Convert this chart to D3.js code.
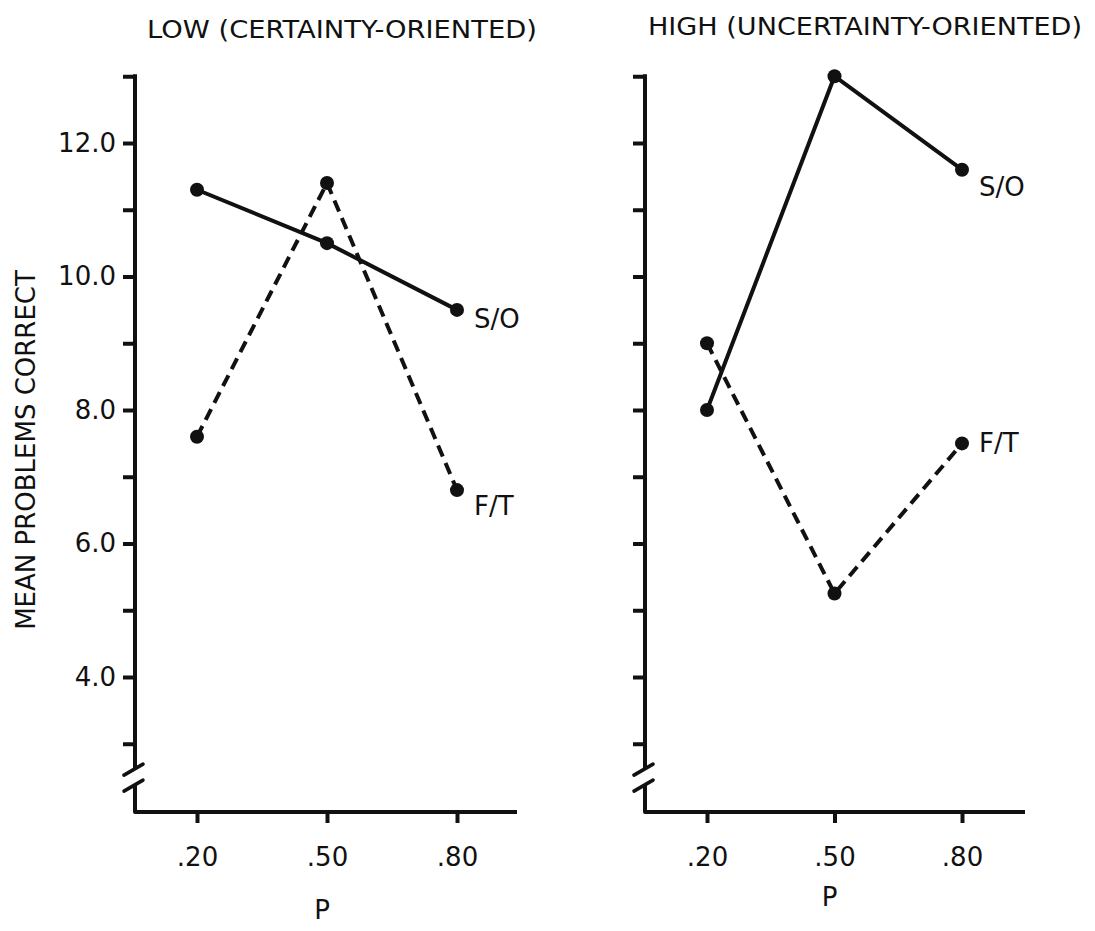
<!DOCTYPE html>
<html>
<head>
<meta charset="utf-8">
<script src="https://cdn.jsdelivr.net/npm/d3@7/dist/d3.min.js"></script>
<style>
  body { margin: 0; background: #fff; }
  svg { display: block; }
  text { font-family: "DejaVu Sans", "Liberation Sans", sans-serif; fill: #111; }
</style>
</head>
<body>
<div id="chart"></div>
<script>
// values
const pValues = [0.2, 0.5, 0.8];
const pLabels = [".20", ".50", ".80"];
const lowSO  = [11.3, 10.5, 9.5];
const lowFT  = [7.6, 11.4, 6.8];
const highSO = [8.0, 13.0, 11.6];
const highFT = [9.0, 5.25, 7.5];
const yTicks = [3, 4, 5, 6, 7, 8, 9, 10, 11, 12, 13];
const yLabelled = [4, 6, 8, 10, 12];
const panelTitles = ["LOW (CERTAINTY-ORIENTED)", "HIGH (UNCERTAINTY-ORIENTED)"];
const seriesNames = ["S/O", "F/T"];

const W = 1095, H = 931;
const fontFam = "DejaVu Sans, Liberation Sans, sans-serif";
const fontSize = 26;
const lineW = 4;
const dotR = 7;
const baseY = 812;     // where the x axis sits
const breakTop = 2.62, breakBottom = 2.38;  // y values around the axis break

const yScale = d3.scaleLinear().domain([4, 12]).range([677, 143]);

const svg = d3.select("#chart").append("svg")
    .attr("width", W)
    .attr("height", H);

// layout of the two panels
const panels = [
    {title: panelTitles[0], titleX: 342, titleY: 38, titleLen: 390,
     axisX: 135, xEnd: 517, range: [197, 457], showLabels: true,
     series: [{name: seriesNames[0], values: lowSO, dash: null, dy: 9},
              {name: seriesNames[1], values: lowFT, dash: "12,7", dy: 16}]},
    {title: panelTitles[1], titleX: 865, titleY: 35, titleLen: 434,
     axisX: 645, xEnd: 1025, range: [707, 962], showLabels: false,
     series: [{name: seriesNames[0], values: highSO, dash: null, dy: 17},
              {name: seriesNames[1], values: highFT, dash: "12,7", dy: 0}]}
];

const fmt = d3.format(".1f");

panels.forEach(p => {
    const g = svg.append("g");
    const xScale = d3.scaleLinear().domain([0.2, 0.8]).range(p.range);

    // title
    g.append("text")
        .attr("x", p.titleX)
        .attr("y", p.titleY)
        .attr("text-anchor", "middle")
        .attr("font-size", 25)
        .attr("textLength", p.titleLen)
        .attr("lengthAdjust", "spacingAndGlyphs")
        .text(p.title);

    // y axis ticks (domain drawn by hand because of the break)
    const yAxisG = g.append("g")
        .attr("transform", "translate(" + p.axisX + ",0)")
        .call(d3.axisLeft(yScale)
            .tickValues(yTicks)
            .tickSize(12)
            .tickPadding(7)
            .tickFormat(v => (p.showLabels && yLabelled.includes(v)) ? fmt(v) : ""));
    yAxisG.select(".domain").remove();
    yAxisG.selectAll(".tick line").attr("stroke", "#111").attr("stroke-width", lineW);
    yAxisG.selectAll(".tick text")
        .attr("font-size", fontSize)
        .attr("font-family", fontFam)
        .attr("fill", "#111");

    // y axis line with break, then x axis line
    const yTopPx = yScale(13) - lineW / 2;
    const yBrkA = yScale(breakTop), yBrkB = yScale(breakBottom);
    g.append("path")
        .attr("d", d3.line()([[p.axisX, yTopPx], [p.axisX, yBrkA]]))
        .attr("stroke", "#111").attr("stroke-width", lineW).attr("fill", "none");
    g.append("path")
        .attr("d", d3.line()([[p.axisX, yBrkB], [p.axisX, baseY], [p.xEnd, baseY]]))
        .attr("stroke", "#111").attr("stroke-width", lineW).attr("fill", "none")
        .attr("stroke-linejoin", "round");
    [yBrkA, yBrkB].forEach(yb => {
        g.append("line")
            .attr("x1", p.axisX - 11).attr("y1", yb + 6)
            .attr("x2", p.axisX + 8).attr("y2", yb - 5)
            .attr("stroke", "#111").attr("stroke-width", lineW - 0.5)
            .attr("stroke-linecap", "round");
    });

    // x axis ticks
    const xAxisG = g.append("g")
        .attr("transform", "translate(0," + baseY + ")")
        .call(d3.axisBottom(xScale)
            .tickValues(pValues)
            .tickSize(11)
            .tickPadding(25)
            .tickFormat((d, i) => pLabels[i]));
    xAxisG.select(".domain").remove();
    xAxisG.selectAll(".tick line").attr("stroke", "#111").attr("stroke-width", lineW);
    xAxisG.selectAll(".tick text")
        .attr("font-size", fontSize)
        .attr("font-family", fontFam)
        .attr("fill", "#111");

    // x axis title
    g.append("text")
        .attr("x", xScale(0.5) - 5)
        .attr("y", p.showLabels ? 919 : 906)
        .attr("text-anchor", "middle")
        .attr("font-size", fontSize)
        .text("P");

    // series
    const line = d3.line()
        .x((d, i) => xScale(pValues[i]))
        .y(d => yScale(d));

    p.series.forEach(s => {
        g.append("path")
            .datum(s.values)
            .attr("d", line)
            .attr("fill", "none")
            .attr("stroke", "#111")
            .attr("stroke-width", lineW)
            .attr("stroke-dasharray", s.dash);

        g.selectAll(null)
            .data(s.values)
            .join("circle")
            .attr("cx", (d, i) => xScale(pValues[i]))
            .attr("cy", d => yScale(d))
            .attr("r", dotR)
            .attr("fill", "#111");

        const last = s.values.length - 1;
        g.append("text")
            .attr("x", xScale(pValues[last]) + 17)
            .attr("y", yScale(s.values[last]) + s.dy)
            .attr("dy", "0.35em")
            .attr("font-size", fontSize)
            .text(s.name);
    });
});

// shared y axis title
svg.append("text")
    .attr("transform", "translate(35,450) rotate(-90)")
    .attr("text-anchor", "middle")
    .attr("font-size", fontSize)
    .text("MEAN PROBLEMS CORRECT");
</script>
</body>
</html>
